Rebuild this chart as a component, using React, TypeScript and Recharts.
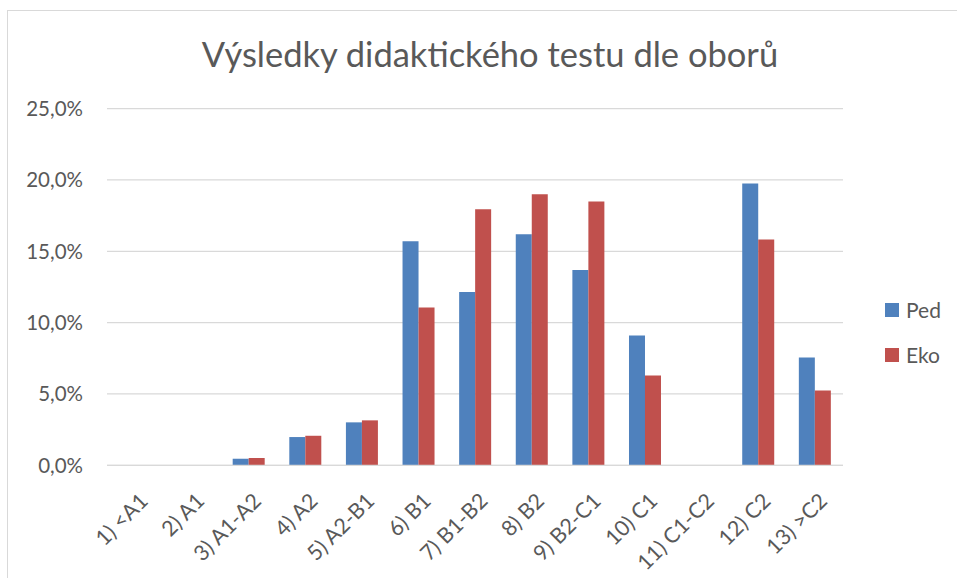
import { BarChart, Bar, XAxis, YAxis, CartesianGrid, Legend } from 'recharts';

// kategorie a hodnoty (v %)
const categories = [
  '1) <A1', '2) A1', '3) A1-A2', '4) A2', '5) A2-B1', '6) B1', '7) B1-B2',
  '8) B2', '9) B2-C1', '10) C1', '11) C1-C2', '12) C2', '13) >C2',
];
const ped = [0, 0, 0.46, 1.98, 3.01, 15.71, 12.14, 16.2, 13.68, 9.1, 0, 19.75, 7.56];
const eko = [0, 0, 0.51, 2.07, 3.15, 11.06, 17.95, 19.0, 18.49, 6.3, 0, 15.83, 5.25];
const yTicks = [0, 5, 10, 15, 20, 25];

const data = categories.map((name, i) => ({ name, Ped: ped[i], Eko: eko[i] }));

const FONT = 'Lato, "Open Sans", sans-serif';
const TEXT = '#595959';

const XTick = (props: any) => {
  const { x, y, payload } = props;
  const ax = x + 14;
  const ay = y + 29;
  return (
    <text
      x={ax}
      y={ay}
      textAnchor="end"
      fill={TEXT}
      fontSize={21.5}
      fontFamily={FONT}
      transform={`rotate(-45, ${ax}, ${ay})`}
    >
      {payload.value}
    </text>
  );
};

const LegendBox = () => (
  <div style={{ fontFamily: FONT, color: TEXT, fontSize: 21 }}>
    {[{ n: 'Ped', c: '#4F81BD' }, { n: 'Eko', c: '#C0504D' }].map((it) => (
      <div key={it.n} style={{ display: 'flex', alignItems: 'center', height: 45 }}>
        <span style={{ width: 14, height: 14, background: it.c, display: 'inline-block', marginRight: 7 }} />
        <span>{it.n}</span>
      </div>
    ))}
  </div>
);

export default function App() {
  return (
    <div style={{ position: 'absolute', left: 0, top: 0, width: 957, height: 578, background: '#fff', overflow: 'hidden' }}>
      <div style={{ position: 'absolute', left: 7, top: 10, width: 1000, height: 600, borderLeft: '1px solid #d9d9d9', borderTop: '1px solid #d9d9d9' }} />
      <div style={{ position: 'absolute', left: 0, top: 37, width: 980, textAlign: 'center', fontFamily: FONT, fontSize: 34.5, lineHeight: 1, color: TEXT }}>
        Výsledky didaktického testu dle oborů
      </div>
      <div style={{ position: 'absolute', left: 0, top: 0 }}>
        <BarChart
          width={957}
          height={578}
          data={data}
          margin={{ top: 108.6, right: 114, bottom: 0, left: 27 }}
          barCategoryGap="22%"
          barGap={0}
        >
          <CartesianGrid vertical={false} stroke="#d9d9d9" strokeWidth={1.3} />
          <XAxis
            dataKey="name"
            height={112.7}
            interval={0}
            tick={<XTick />}
            tickLine={false}
            axisLine={{ stroke: '#d9d9d9', strokeWidth: 1.3 }}
          />
          <YAxis
            width={80}
            domain={[0, 25]}
            ticks={yTicks}
            tickFormatter={(v: number) => v.toFixed(1).replace('.', ',') + '%'}
            tick={{ fill: TEXT, fontSize: 20.5, fontFamily: FONT }}
            tickSize={0}
            tickMargin={24}
            tickLine={false}
            axisLine={false}
          />
          <Legend
            layout="horizontal"
            verticalAlign="middle"
            align="center"
            content={<LegendBox />}
            wrapperStyle={{ left: 885, top: 287, width: 70 }}
          />
          <Bar dataKey="Ped" fill="#4F81BD" isAnimationActive={false} />
          <Bar dataKey="Eko" fill="#C0504D" isAnimationActive={false} />
        </BarChart>
      </div>
    </div>
  );
}
